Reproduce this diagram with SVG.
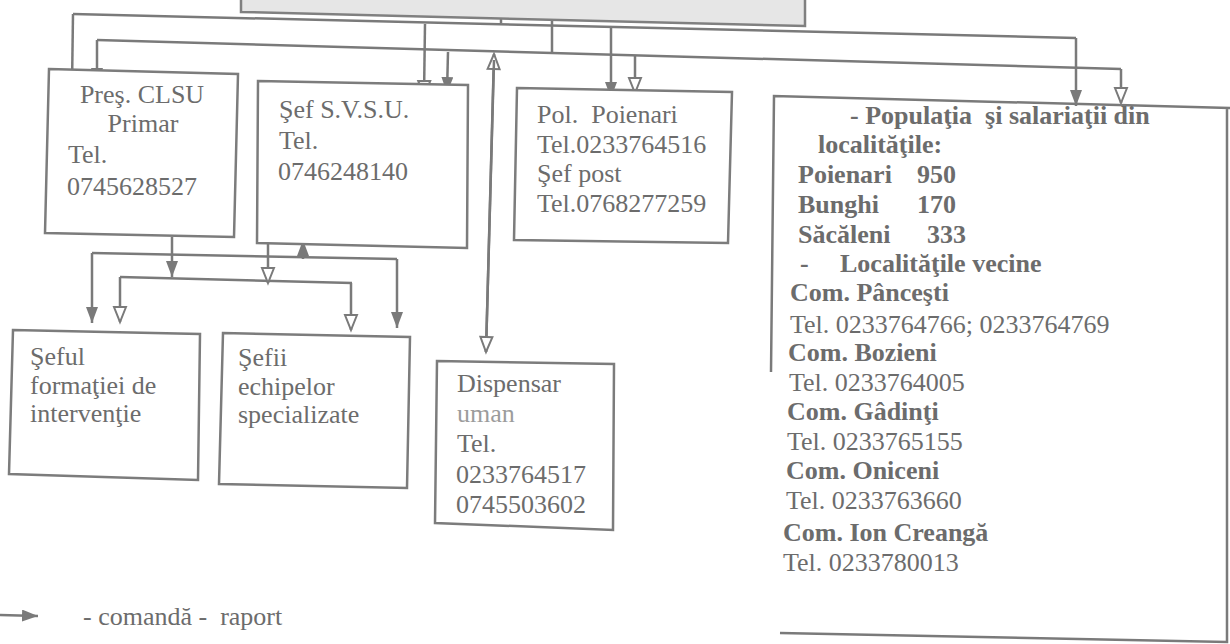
<svg xmlns="http://www.w3.org/2000/svg" width="1230" height="644" viewBox="0 0 1230 644">
<style>
.bx{fill:#ffffff;stroke:#7c7c7c;stroke-width:2.5;stroke-linejoin:miter}
.ln{fill:none;stroke:#7a7a7a;stroke-width:2.5}
.t{font-family:"Liberation Serif","Times New Roman",serif;font-size:26px;fill:#6c6c6c;white-space:pre}
.b{font-weight:bold}
.c{text-anchor:middle}
.lt{fill:#9c9c9c}
</style>
<defs>
<marker id="af" viewBox="0 0 16 12" refX="16" refY="6" markerWidth="16" markerHeight="12" markerUnits="userSpaceOnUse" orient="auto">
<path d="M0,0 L16,6 L0,12 z" fill="#7a7a7a"/>
</marker>
<marker id="ao" viewBox="-2 -2 20 16" refX="15" refY="6" markerWidth="20" markerHeight="16" markerUnits="userSpaceOnUse" orient="auto" overflow="visible">
<path d="M0,0 L15,6 L0,12 z" fill="#ffffff" stroke="#7a7a7a" stroke-width="2"/>
</marker>
</defs>
<rect x="0" y="0" width="1230" height="644" fill="#ffffff"/>

<g id="connectors">
<path class="ln" d="M73,14 L1076,38"/>
<path class="ln" d="M97,40 L1121,69"/>
<path class="ln" d="M501,2 L501,23"/>
<path class="ln" d="M501,2 L501,15" marker-end="url(#ao)"/>
<path class="ln" d="M552,54 L552,4" marker-end="url(#af)"/>
<path class="ln" d="M73,14 L72,86" marker-end="url(#ao)"/>
<path class="ln" d="M97,40 L97,84" marker-end="url(#af)"/>
<path class="ln" d="M425,24 L424,96" marker-end="url(#ao)"/>
<path class="ln" d="M448,52 L447,93" marker-end="url(#af)"/>
<path class="ln" d="M486,352 L494,54" marker-end="url(#ao)"/>
<path class="ln" d="M494,60 L486,352" marker-end="url(#ao)"/>
<path class="ln" d="M611,27 L611,98" marker-end="url(#af)"/>
<path class="ln" d="M635,55 L635,93" marker-end="url(#ao)"/>
<path class="ln" d="M1076,38 L1076,106" marker-end="url(#af)"/>
<path class="ln" d="M1121,69 L1121,103" marker-end="url(#ao)"/>
<path class="ln" d="M92,253 L397,259"/>
<path class="ln" d="M120,277 L352,283"/>
<path class="ln" d="M172,237 L172,277" marker-end="url(#af)"/>
<path class="ln" d="M92,253 L92,323" marker-end="url(#af)"/>
<path class="ln" d="M397,259 L397,328" marker-end="url(#af)"/>
<path class="ln" d="M120,277 L120,322" marker-end="url(#ao)"/>
<path class="ln" d="M351,283 L351,330" marker-end="url(#ao)"/>
<path class="ln" d="M268,243 L268,283" marker-end="url(#ao)"/>
<path class="ln" d="M303,259 L303,240" marker-end="url(#af)"/>
</g>

<g id="top-box">
<polygon points="241,-3 805,-3 805,26 241,12" fill="#e6e6e6" stroke="#808080" stroke-width="2.5"/>
</g>

<g id="pres-clsu">
<polygon class="bx" points="49,69 238,74 234,237 45,233"/>
<text class="t c" x="142" y="103">Preş. CLSU</text>
<text class="t c" x="143" y="132">Primar</text>
<text class="t" x="68" y="163">Tel.</text>
<text class="t" x="67" y="195">0745628527</text>
</g>

<g id="sef-svsu">
<polygon class="bx" points="258,81 468,85 467,248 257,243"/>
<text class="t" x="279" y="118">Şef S.V.S.U.</text>
<text class="t" x="279" y="149">Tel.</text>
<text class="t" x="278" y="180">0746248140</text>
</g>

<g id="pol-poienari">
<polygon class="bx" points="517,88 732,92 728,243 514,240"/>
<text class="t" x="537" y="123">Pol.  Poienari</text>
<text class="t" x="537" y="153">Tel.0233764516</text>
<text class="t" x="537" y="182">Şef post</text>
<text class="t" x="537" y="212">Tel.0768277259</text>
</g>

<g id="populatia">
<path class="ln" d="M771,372 L774,96 L1230,108 M1227,108 L1227,642 L780,633"/>
<text class="t b" x="850" y="124">- Populaţia  şi salariaţii din</text>
<text class="t b" x="818" y="153">localităţile:</text>
<text class="t b" x="798" y="183">Poienari</text>
<text class="t b" x="917" y="183">950</text>
<text class="t b" x="798" y="213">Bunghi</text>
<text class="t b" x="917" y="213">170</text>
<text class="t b" x="798" y="243">Săcăleni</text>
<text class="t b" x="927" y="243">333</text>
<text class="t b" x="800" y="272">-</text>
<text class="t b" x="840" y="272">Localităţile vecine</text>
<text class="t b" x="790" y="301">Com. Pânceşti</text>
<text class="t" x="790" y="333">Tel. 0233764766; 0233764769</text>
<text class="t b" x="788" y="361">Com. Bozieni</text>
<text class="t" x="789" y="391">Tel. 0233764005</text>
<text class="t b" x="787" y="420">Com. Gâdinţi</text>
<text class="t" x="787" y="450">Tel. 0233765155</text>
<text class="t b" x="786" y="479">Com. Oniceni</text>
<text class="t" x="786" y="509">Tel. 0233763660</text>
<text class="t b" x="783" y="541">Com. Ion Creangă</text>
<text class="t" x="783" y="571">Tel. 0233780013</text>
</g>

<g id="seful-formatiei">
<polygon class="bx" points="13,330 200,334 198,480 9,474"/>
<text class="t" x="30" y="365">Şeful</text>
<text class="t" x="30" y="394">formaţiei de</text>
<text class="t" x="30" y="422">intervenţie</text>
</g>

<g id="sefii-echipelor">
<polygon class="bx" points="223,333 410,337 407,488 219,484"/>
<text class="t" x="238" y="366">Şefii</text>
<text class="t" x="238" y="395">echipelor</text>
<text class="t" x="238" y="423">specializate</text>
</g>

<g id="dispensar">
<polygon class="bx" points="437,361 614,364 613,530 435,523"/>
<text class="t" x="457" y="392">Dispensar</text>
<text class="t lt" x="457" y="422">uman</text>
<text class="t" x="457" y="452">Tel.</text>
<text class="t" x="456" y="483">0233764517</text>
<text class="t" x="456" y="513">0745503602</text>
</g>

<g id="legend">
<path class="ln" d="M0,615 L38,616" marker-end="url(#af)"/>
<text class="t" x="83" y="625">- comandă -  raport</text>
</g>
</svg>
